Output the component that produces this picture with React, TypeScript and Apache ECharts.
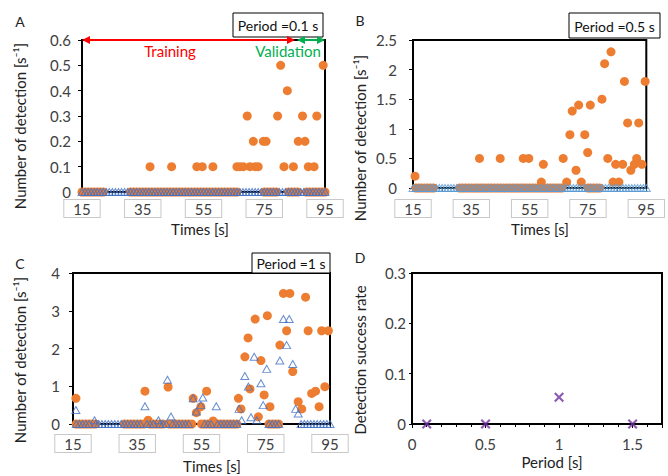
import React, { useEffect, useRef } from "react";
import * as echarts from "echarts";

const FONT = "Lato, 'Open Sans', sans-serif";

// ---------- Panel A (period 0.1 s) ----------
const aOrangeZeroT = [15, 16, 17, 18, 19, 20, 21, 22, 31, 32, 33, 34, 35, 36, 37, 38, 39, 40, 41, 42, 43, 44, 45, 46, 47, 48, 49, 50, 51, 52, 53, 54, 55, 56, 57, 58, 59, 60, 61, 62, 63, 64, 65, 66, 75, 76, 77, 78, 79, 83, 84, 85, 86, 89, 90, 91, 92, 93, 94, 95];
const aOrangePts = [[37.4, 0.1], [44.5, 0.1], [52.8, 0.1], [54.6, 0.1], [58.1, 0.1], [66, 0.1], [67, 0.1], [68.1, 0.1], [69.4, 0.3], [70.3, 0.1], [71.4, 0.2], [72, 0.1], [73, 0.1], [74.7, 0.2], [75.6, 0.2], [79.4, 0.3], [80.4, 0.5], [81.5, 0.1], [82.6, 0.4], [84.6, 0.1], [86.2, 0.2], [87.6, 0.3], [88.4, 0.2], [89.5, 0.1], [91.4, 0.1], [92.3, 0.3], [94.4, 0.5]];
const aBlueZeroT = [15, 16, 17, 18, 19, 20, 21, 22, 23, 24, 25, 26, 27, 28, 29, 30, 31, 32, 33, 34, 35, 36, 37, 38, 39, 40, 41, 42, 43, 44, 45, 46, 47, 48, 49, 50, 51, 52, 53, 54, 55, 56, 57, 58, 59, 60, 61, 62, 63, 64, 65, 66, 67, 68, 69, 70, 71, 72, 73, 74, 75, 76, 77, 78, 79, 80, 81, 82, 83, 84, 85, 86, 87, 88, 89, 90, 91, 92, 93, 94, 95];

// ---------- Panel B (period 0.5 s) ----------
const bOrangeZeroT = [16, 17, 18, 19, 20, 21, 22, 31, 32, 33, 34, 35, 36, 37, 38, 39, 40, 41, 42, 43, 44, 45, 46, 47, 48, 49, 50, 51, 52, 53, 54, 55, 56, 57, 58, 59, 60, 61, 62, 63, 64, 65, 66, 75, 76, 77, 78, 79];
const bOrangePts = [[15.7, 0.2], [37.8, 0.5], [44.9, 0.5], [52.8, 0.5], [54.7, 0.5], [59.0, 0.1], [59.7, 0.4], [66.5, 0.5], [67.7, 0.1], [68.8, 0.9], [69.6, 1.3], [70.9, 0.3], [71.8, 1.4], [72.7, 0.1], [73.9, 0.9], [74.9, 0.6], [75.8, 1.4], [79.8, 1.5], [80.7, 2.1], [81.8, 0.5], [82.9, 2.3], [83.6, 0.1], [84.5, 0.4], [85.6, 0.1], [86.9, 0.4], [87.5, 1.8], [88.6, 1.1], [89.7, 0.3], [90.9, 0.4], [91.7, 0.5], [92.4, 1.1], [93.5, 0.4], [94.6, 1.8]];
const bBlueZeroT = [15, 16, 17, 18, 19, 20, 21, 22, 23, 24, 25, 26, 27, 28, 29, 30, 31, 32, 33, 34, 35, 36, 37, 38, 39, 40, 41, 42, 43, 44, 45, 46, 47, 48, 49, 50, 51, 52, 53, 54, 55, 56, 57, 58, 59, 60, 61, 62, 63, 64, 65, 66, 67, 68, 69, 70, 71, 72, 73, 74, 75, 76, 77, 78, 79, 80, 81, 82, 83, 84, 85, 86, 87, 88, 89, 90, 91, 92, 93, 94, 95];

// ---------- Panel C (period 1 s) ----------
const cOrangeZeroT = [16, 17, 18, 19, 20, 21, 22, 31, 32, 33, 34, 35, 36, 37, 39, 40, 41, 42, 43, 45, 46, 47, 48, 49, 50, 51, 52, 55, 56, 57, 58, 59, 60, 61, 62, 63, 64, 65, 66, 76, 77, 78, 79];
const cOrangePts = [[15.9, 0.68], [37.4, 0.87], [38.4, 0.1], [44.6, 0.98], [52.4, 0.68], [53.4, 0.3], [54.8, 0.46], [56.6, 0.87], [58.6, 0.08], [66.5, 0.68], [67.3, 0.4], [68.5, 1.78], [69.5, 2.28], [70.1, 0.93], [71.7, 2.78], [72.7, 0.19], [73.5, 1.68], [74.5, 0.77], [75.5, 2.87], [76.3, 0.46], [79.4, 2.09], [80.5, 3.46], [81.5, 2.47], [82.5, 3.46], [83.4, 1.39], [85.1, 0.59], [86.2, 0.4], [87.4, 3.36], [88.2, 2.47], [89.3, 0.81], [90.5, 0.87], [91.6, 0.46], [92.4, 2.47], [93.4, 0.99], [94.5, 2.47]];
const cBlueZeroT = [16, 17, 18, 19, 20, 22, 23, 24, 25, 26, 27, 28, 29, 30, 31, 32, 33, 34, 35, 36, 38, 39, 40, 42, 43, 44, 46, 47, 48, 49, 50, 51, 56, 57, 58, 60, 61, 62, 63, 64, 65, 66, 76, 77, 78, 79, 86, 87, 88, 89, 90, 91, 92, 93, 94, 95];
const cBluePts = [[15.9, 0.37], [21.7, 0.1], [37.4, 0.47], [41.6, 0.1], [44.4, 1.17], [45.5, 0.2], [52.4, 0.68], [53.4, 0.33], [54.8, 0.5], [55.4, 0.7], [59.6, 0.47], [66.7, 0.4], [67.5, 0.1], [68.5, 1.27], [69.6, 0.99], [70.4, 0.18], [71.4, 1.78], [72.2, 0.1], [73.5, 1.08], [74.2, 0.5], [75.3, 1.46], [79.4, 1.68], [80.5, 2.78], [81.5, 2.09], [82.3, 2.78], [83.4, 1.59], [84.3, 0.4], [85.1, 0.28]];

// ---------- Panel D ----------
const dPeriods = [0.1, 0.5, 1, 1.5];
const dRates = [0, 0, 0.053, 0];

const timeTicks = ["15", "35", "55", "75", "95"];

const ORANGE = "#ED7D31";
const BLUE = "#4472C4";
const BLUE_LIGHT = "#5B9BD5";
const PURPLE = "#7030A0";
const TXT = "#404040";
const XSYM = "path://M0,1.5L1.5,0L5,3.5L8.5,0L10,1.5L6.5,5L10,8.5L8.5,10L5,6.5L1.5,10L0,8.5L3.5,5Z";

const zeros = (ts: number[]) => ts.map((t) => [t, 0]);

function timeAxis(gridIndex: number, margin: number) {
  return {
    gridIndex,
    type: "value",
    min: 15,
    max: 95,
    interval: 20,
    axisLine: { show: true, onZero: false, lineStyle: { color: "#000", width: 2 } },
    axisTick: { show: true, length: 4, lineStyle: { color: "#000", width: 1 } },
    minorTick: { show: true, splitNumber: 2, length: 4, lineStyle: { color: "#000", width: 1 } },
    splitLine: { show: false },
    axisLabel: {
      margin,
      fontSize: 15,
      fontFamily: FONT,
      color: TXT,
      borderColor: "#c8c8c8",
      borderWidth: 1,
      backgroundColor: "#fff",
      padding: [1, 9, 1, 9],
      formatter: (v: number) => (timeTicks.includes(String(v)) ? String(v) : ""),
    },
  };
}

function valAxis(gridIndex: number, max: number, interval: number, margin: number) {
  return {
    gridIndex,
    type: "value",
    min: 0,
    max,
    interval,
    axisLine: { show: true, lineStyle: { color: "#000", width: 2 } },
    axisTick: { show: true, length: 4, lineStyle: { color: "#000", width: 1 } },
    splitLine: { show: false },
    axisLabel: { margin, fontSize: 15, fontFamily: FONT, color: TXT },
  };
}

function orangeSeries(idx: number, data: number[][]) {
  return {
    type: "scatter",
    xAxisIndex: idx,
    yAxisIndex: idx,
    symbol: "circle",
    symbolSize: 9,
    clip: false,
    itemStyle: { color: ORANGE, opacity: 1 },
    data,
  };
}

function blueSeries(idx: number, data: number[][], color: string) {
  return {
    type: "scatter",
    xAxisIndex: idx,
    yAxisIndex: idx,
    symbol: "triangle",
    symbolSize: [8, 7],
    clip: false,
    itemStyle: { color: "rgba(255,255,255,0)", borderColor: color, borderWidth: 1 },
    data,
  };
}

function txt(x: number, y: number, text: string, opts: any = {}) {
  return {
    type: "text",
    x,
    y,
    z: 100,
    rotation: opts.rotation || 0,
    style: {
      text,
      fill: opts.fill || "#222",
      fontSize: opts.fontSize || 15,
      fontFamily: FONT,
      align: opts.align || "center",
      textAlign: opts.align || "center",
      verticalAlign: "middle",
      textVerticalAlign: "middle",
    },
  };
}

function box(x: number, y: number, w: number, h: number, text: string) {
  return [
    { type: "rect", z: 100, shape: { x, y, width: w, height: h }, style: { fill: "#fff", stroke: "#000", lineWidth: 1 } },
    txt(x + w / 2, y + h / 2 + 0.5, text, { fontSize: 14, fill: "#111" }),
  ];
}

function arrow(x1: number, x2: number, y: number, color: string) {
  return [
    { type: "line", z: 101, shape: { x1: x1 + 5, y1: y, x2: x2 - 5, y2: y }, style: { stroke: color, lineWidth: 2 } },
    { type: "polygon", z: 101, shape: { points: [[x1, y], [x1 + 8, y - 4], [x1 + 8, y + 4]] }, style: { fill: color } },
    { type: "polygon", z: 101, shape: { points: [[x2, y], [x2 - 8, y - 4], [x2 - 8, y + 4]] }, style: { fill: color } },
  ];
}

export default function App() {
  const ref = useRef<HTMLDivElement>(null);
  useEffect(() => {
    document.body.style.margin = "0";
    const chart = echarts.init(ref.current!, null, { renderer: "svg" });
    const gridBase = { show: true, borderColor: "#000", borderWidth: 2, backgroundColor: "transparent" };
    const yTitle = "Number of detection [s⁻¹]";
    chart.setOption({
      animation: false,
      textStyle: { fontFamily: FONT },
      grid: [
        { ...gridBase, left: 82, top: 40, width: 243, height: 152 },
        { ...gridBase, left: 413, top: 40, width: 246, height: 148 },
        { ...gridBase, left: 73, top: 273, width: 257, height: 151 },
        { ...gridBase, left: 412, top: 273, width: 250, height: 151 },
      ],
      xAxis: [
        timeAxis(0, 8),
        timeAxis(1, 12),
        timeAxis(2, 11),
        {
          gridIndex: 3,
          type: "value",
          min: 0,
          max: 1.7,
          interval: 0.5,
          axisLine: { show: true, onZero: false, lineStyle: { color: "#000", width: 2 } },
          axisTick: { show: true, length: 4, lineStyle: { color: "#000", width: 1 } },
          minorTick: { show: true, splitNumber: 5, length: 3, lineStyle: { color: "#000", width: 1 } },
          splitLine: { show: false },
          axisLabel: { margin: 12, fontSize: 15, fontFamily: FONT, color: TXT, showMaxLabel: false },
        },
      ],
      yAxis: [
        valAxis(0, 0.6, 0.1, 11),
        valAxis(1, 2.5, 0.5, 16),
        valAxis(2, 4, 1, 13),
        { ...valAxis(3, 0.3, 0.1, 6), axisTick: { show: true, length: 3, lineStyle: { color: "#000" } } },
      ],
      series: [
        orangeSeries(0, [...zeros(aOrangeZeroT), ...aOrangePts]),
        blueSeries(0, zeros(aBlueZeroT), BLUE),
        orangeSeries(1, [...zeros(bOrangeZeroT), ...bOrangePts]),
        blueSeries(1, zeros(bBlueZeroT), BLUE_LIGHT),
        orangeSeries(2, [...zeros(cOrangeZeroT), ...cOrangePts]),
        blueSeries(2, [...zeros(cBlueZeroT), ...cBluePts], BLUE),
        {
          type: "scatter",
          xAxisIndex: 3,
          yAxisIndex: 3,
          symbol: XSYM,
          symbolSize: 10,
          clip: false,
          itemStyle: { color: PURPLE },
          data: dPeriods.map((p, i) => [p, dRates[i]]),
        },
      ],
      graphic: [
        txt(20, 21, "A", { fontSize: 14 }),
        txt(360, 20, "B", { fontSize: 14 }),
        txt(20, 263, "C", { fontSize: 14 }),
        txt(360, 257, "D", { fontSize: 14 }),
        txt(20, 126, yTitle, { rotation: Math.PI / 2 }),
        txt(360, 138, yTitle, { rotation: Math.PI / 2 }),
        txt(20, 360, yTitle, { rotation: Math.PI / 2 }),
        txt(360, 360, "Detection success rate", { rotation: Math.PI / 2 }),
        txt(200, 229, "Times [s]"),
        txt(540, 229, "Times [s]"),
        txt(212, 466, "Times [s]"),
        txt(552, 462, "Period [s]"),
        ...box(233, 13, 90, 24, "Period =0.1 s"),
        ...box(569, 13, 91, 25, "Period =0.5 s"),
        ...box(252, 253, 78, 20, "Period =1 s"),
        ...arrow(82, 295, 40, "#FF0000"),
        ...arrow(297, 325, 40, "#00B050"),
        txt(170, 51, "Training", { fill: "#FF0000", fontSize: 15 }),
        txt(288, 51, "Validation", { fill: "#00B050", fontSize: 15 }),
      ],
    });
    return () => chart.dispose();
  }, []);
  return <div ref={ref} style={{ width: 668, height: 476 }} />;
}
